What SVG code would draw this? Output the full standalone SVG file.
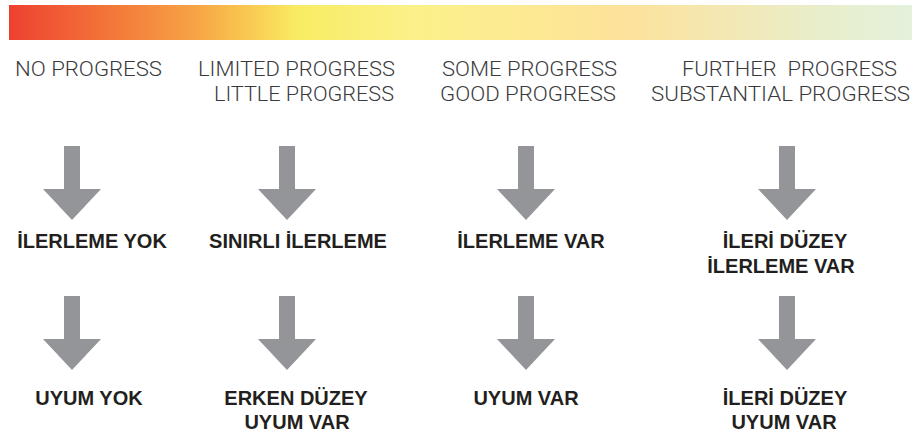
<svg xmlns="http://www.w3.org/2000/svg" width="917" height="434" viewBox="0 0 917 434">
  <defs>
    <linearGradient id="bar" x1="0" y1="0" x2="1" y2="0">
      <stop offset="0" stop-color="#EE4130"/>
      <stop offset="0.12" stop-color="#F37A3A"/>
      <stop offset="0.2" stop-color="#F7A044"/>
      <stop offset="0.27" stop-color="#F9CC52"/>
      <stop offset="0.32" stop-color="#F9EC64"/>
      <stop offset="0.45" stop-color="#FAF18A"/>
      <stop offset="0.56" stop-color="#FDEA92"/>
      <stop offset="0.68" stop-color="#FDE29A"/>
      <stop offset="0.8" stop-color="#F3E8B5"/>
      <stop offset="0.9" stop-color="#E8EECB"/>
      <stop offset="1" stop-color="#E4F1DC"/>
    </linearGradient>
    <polygon id="arrow" points="-8,0 8,0 8,43 29,43 0,74 -29,43 -8,43"/>
  </defs>
  <style>
    .en { font-family: Roboto, "Liberation Sans", sans-serif; font-weight: 300; font-size: 20px; fill: #3A3A3C; }
    .tr { font-family: "Liberation Sans", Arial, sans-serif; font-weight: bold; font-size: 20px; fill: #231F20; text-anchor: middle; }
    .arr { fill: #939598; }
  </style>
  <rect x="9" y="5" width="903" height="35" fill="url(#bar)"/>

  <g id="col1-en"><text class="en" x="15" y="76" textLength="147" lengthAdjust="spacingAndGlyphs">NO PROGRESS</text></g>
  <g id="col2-en">
    <text class="en" x="198" y="76" textLength="197" lengthAdjust="spacingAndGlyphs">LIMITED PROGRESS</text>
    <text class="en" x="214" y="101" textLength="180" lengthAdjust="spacingAndGlyphs">LITTLE PROGRESS</text>
  </g>
  <g id="col3-en">
    <text class="en" x="442" y="76" textLength="175" lengthAdjust="spacingAndGlyphs">SOME PROGRESS</text>
    <text class="en" x="440" y="101" textLength="176" lengthAdjust="spacingAndGlyphs">GOOD PROGRESS</text>
  </g>
  <g id="col4-en">
    <text class="en" x="682" y="76" textLength="215" lengthAdjust="spacingAndGlyphs" xml:space="preserve">FURTHER  PROGRESS</text>
    <text class="en" x="651" y="101" textLength="259" lengthAdjust="spacingAndGlyphs">SUBSTANTIAL PROGRESS</text>
  </g>

  <g id="connectors" class="arr">
    <use href="#arrow" x="72" y="146"/>
    <use href="#arrow" x="287" y="146"/>
    <use href="#arrow" x="526" y="146"/>
    <use href="#arrow" x="787" y="146"/>
    <use href="#arrow" x="72" y="296"/>
    <use href="#arrow" x="287" y="296"/>
    <use href="#arrow" x="526" y="296"/>
    <use href="#arrow" x="787" y="296"/>
  </g>

  <g id="col1-progress"><text class="tr" x="92" y="248">İLERLEME YOK</text></g>
  <g id="col2-progress"><text class="tr" x="298" y="248">SINIRLI İLERLEME</text></g>
  <g id="col3-progress"><text class="tr" x="531" y="248">İLERLEME VAR</text></g>
  <g id="col4-progress">
    <text class="tr" x="785" y="248">İLERİ DÜZEY</text>
    <text class="tr" x="781" y="273">İLERLEME VAR</text>
  </g>

  <g id="col1-compliance"><text class="tr" x="89" y="405">UYUM YOK</text></g>
  <g id="col2-compliance">
    <text class="tr" x="296" y="405">ERKEN DÜZEY</text>
    <text class="tr" x="297" y="429">UYUM VAR</text>
  </g>
  <g id="col3-compliance"><text class="tr" x="526" y="405">UYUM VAR</text></g>
  <g id="col4-compliance">
    <text class="tr" x="785" y="405">İLERİ DÜZEY</text>
    <text class="tr" x="784" y="429">UYUM VAR</text>
  </g>
</svg>
